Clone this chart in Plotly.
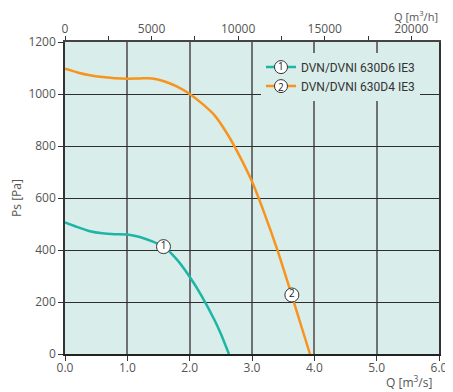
import plotly.graph_objects as go

# ---- data ----
q1 = [0, 0.2, 0.4, 0.6, 0.8, 1.0, 1.2, 1.4, 1.6, 1.8, 2.0, 2.2, 2.4, 2.5, 2.63]
p1 = [506, 488, 472, 464, 461, 460, 450, 433, 410, 362, 297, 220, 130, 78, 0]

q2 = [0, 0.2, 0.4, 0.6, 0.8, 1.0, 1.2, 1.4, 1.6, 1.8, 2.0, 2.2, 2.4, 2.6, 2.8, 3.0, 3.2, 3.4, 3.6, 3.8, 3.93]
p2 = [1097, 1083, 1072, 1065, 1061, 1059, 1060, 1060, 1048, 1028, 1000, 963, 918, 848, 762, 663, 540, 405, 255, 100, 0]

series_names = ["DVN/DVNI 630D6 IE3", "DVN/DVNI 630D4 IE3"]
series_colors = ["#1db5a6", "#f7941d"]
label_q = [1.58, 3.64]
label_p = [413, 227]
label_text = ["1", "2"]

x_ticks = [0, 1, 2, 3, 4, 5, 6]
y_ticks = [0, 200, 400, 600, 800, 1000, 1200]
top_ticks = [0, 5000, 10000, 15000, 20000]
top_tick_labels = ["0", "5000", "10000", "15000", "20000"]
M3H_PER_M3S = 3600

fig = go.Figure()

for q, p, col in [(q1, p1, series_colors[0]), (q2, p2, series_colors[1])]:
    fig.add_trace(go.Scatter(x=q, y=p, mode="lines",
                             line=dict(color=col, width=2.5, shape="spline", smoothing=0.6),
                             showlegend=False, hoverinfo="skip"))

# legend-only entries
for name, col in zip(series_names, series_colors):
    fig.add_trace(go.Scatter(x=[None], y=[None], mode="lines+markers", name=name,
                             line=dict(color=col, width=2.5),
                             marker=dict(size=13, color="white", line=dict(color="#333", width=1))))

# circled number labels on curves
fig.add_trace(go.Scatter(x=label_q, y=label_p, mode="markers+text", text=label_text,
                         textposition="middle center",
                         textfont=dict(size=10, color="#222", family="Open Sans"),
                         marker=dict(size=14, color="white", line=dict(color="#333", width=1)),
                         showlegend=False, hoverinfo="skip"))

# invisible trace for top axis
fig.add_trace(go.Scatter(x=[v * M3H_PER_M3S for v in q2], y=p2, xaxis="x2", mode="lines",
                         line=dict(width=0), opacity=0, showlegend=False, hoverinfo="skip"))

tickfont = dict(family="Open Sans", size=12, color="#555")

LEG_X = 0.524
LEG_Y = 0.966
leg_num_x = (281 - 65) / 374
leg_num_y = [(354 - 66) / 312, (354 - 87) / 312]

annotations = [
    dict(text="Q [m<sup>3</sup>/h]", xref="paper", yref="paper", x=1.0, y=(354 - 16) / 312,
         xanchor="right", yanchor="middle", showarrow=False, borderpad=0,
         font=dict(family="Open Sans", size=11, color="#555")),
    dict(text="Q [m<sup>3</sup>/s]", xref="paper", yref="paper", x=0.985, y=(354 - 382) / 312,
         xanchor="right", yanchor="middle", showarrow=False, borderpad=0,
         font=dict(family="Open Sans", size=12, color="#555")),
]
for t, yy in zip(label_text, leg_num_y):
    annotations.append(dict(text=t, xref="paper", yref="paper", x=leg_num_x, y=yy,
                            xanchor="center", yanchor="middle", showarrow=False,
                            font=dict(family="Open Sans", size=10, color="#222")))

# page body has an 8px margin: size the figure so the plot area lands at x 65..439, y 42..354
fig.update_layout(
    width=445, height=384,
    margin=dict(l=57, r=14, t=34, b=38, autoexpand=False),
    paper_bgcolor="white",
    plot_bgcolor="#d9edea",
    font=dict(family="Open Sans", size=12, color="#555"),
    xaxis=dict(range=[0, 6], tickvals=x_ticks, tickformat=".1f", showgrid=True, automargin=False,
               gridcolor="#707070", gridwidth=1.5, ticks="outside", ticklen=5, tickcolor="#333",
               showline=True, linecolor="#222", linewidth=1.5, zeroline=False, tickfont=tickfont,
               ticklabelstandoff=-3),
    yaxis=dict(range=[0, 1200], tickvals=y_ticks, showgrid=True, gridcolor="#2e2e2e", gridwidth=1,
               ticks="outside", ticklen=5, tickcolor="#333", showline=True, linecolor="#333",
               linewidth=1.5, mirror=True, zeroline=False, tickfont=tickfont, automargin=False,
               title=dict(text="Ps [Pa]", font=dict(family="Open Sans", size=12, color="#555"), standoff=10)),
    xaxis2=dict(overlaying="x", side="top", range=[0, 6 * M3H_PER_M3S], tickvals=top_ticks,
                ticktext=top_tick_labels, automargin=False, ticklabelstandoff=-2,
                ticks="outside", ticklen=4, tickcolor="#333", showgrid=False, zeroline=False,
                showline=True, linecolor="#444", linewidth=1.5, tickfont=tickfont,
                minor=dict(dtick=2500, ticks="outside", ticklen=4, tickcolor="#333", showgrid=False)),
    legend=dict(x=LEG_X, y=LEG_Y, xanchor="left", yanchor="top", bgcolor="#d9edea",
                borderwidth=0, font=dict(family="Roboto", size=12, color="#333"), tracegroupgap=0),
    annotations=annotations,
)

fig.write_html("out.html")
